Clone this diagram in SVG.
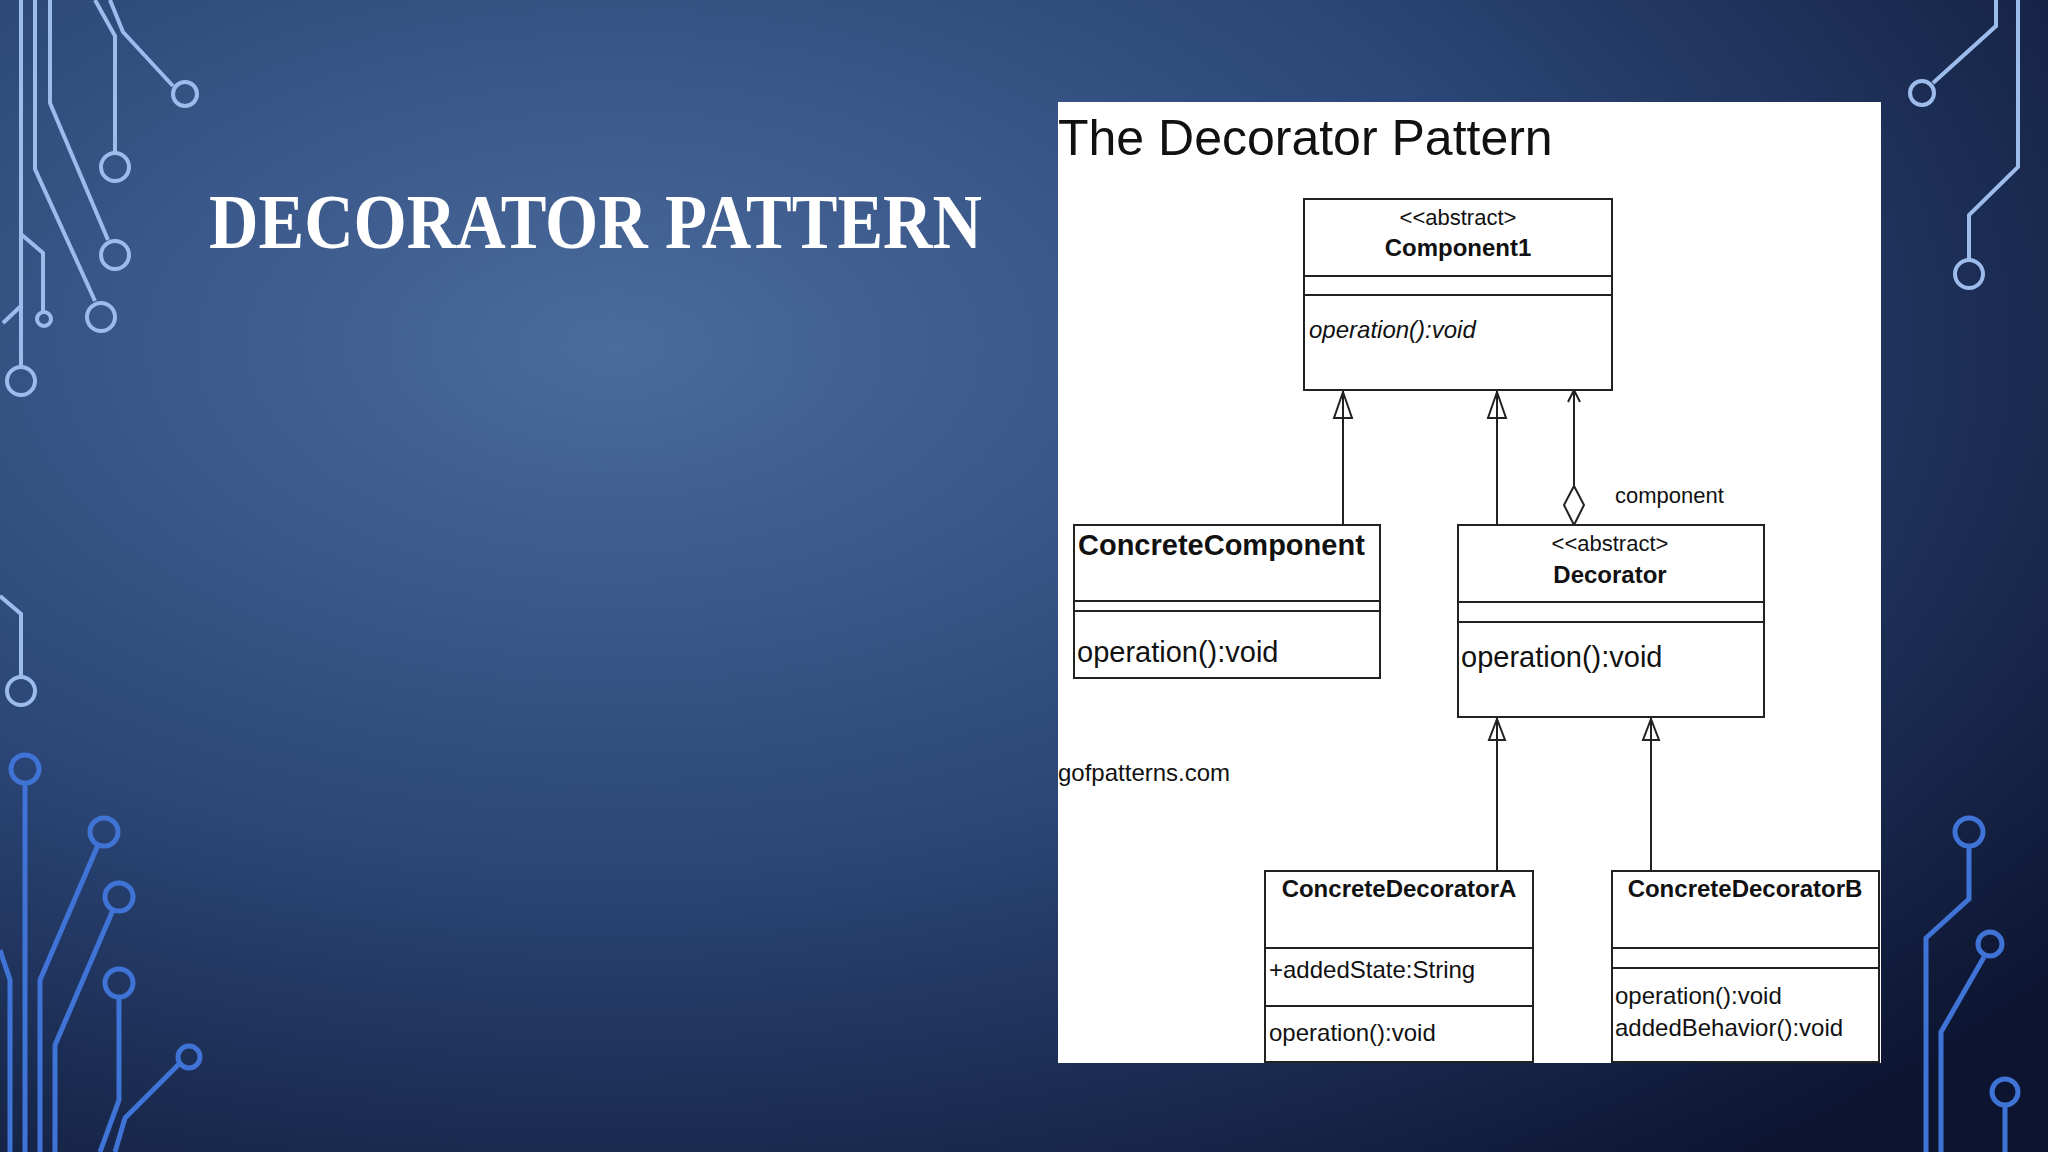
<svg xmlns="http://www.w3.org/2000/svg" width="2048" height="1152" viewBox="0 0 2048 1152">
<defs>
<radialGradient id="bg" cx="0.3" cy="0.3" r="0.9">
<stop offset="0" stop-color="#4a6b9c"/>
<stop offset="0.5" stop-color="#2b4677"/>
<stop offset="1" stop-color="#0c1430"/>
</radialGradient>
<style>
.ct{fill:none;stroke:#9dbcec;stroke-width:4}
.cb{fill:none;stroke:#3f74d6;stroke-width:5}
.bx{fill:#fff;stroke:#222;stroke-width:2}
.ln{stroke:#222;stroke-width:2;fill:none}
.t{font-family:"Liberation Sans",Arial,sans-serif;fill:#111}
.b{font-weight:bold}
</style>
</defs>
<rect width="2048" height="1152" fill="url(#bg)"/>
<g id="circuits">
<path class="ct" d="M21 0V366M35 0V169L95 301M50 0V103L108 240M95 0L115 36V153M110 0L123 32L173 86M22 235L43 253V311M3 323L22 305M0 596L21 614V676"/>
<circle class="ct" cx="21" cy="381" r="14"/><circle class="ct" cx="101" cy="317" r="14"/><circle class="ct" cx="115" cy="255" r="14"/><circle class="ct" cx="115" cy="167" r="14"/><circle class="ct" cx="185" cy="94" r="12"/><circle class="ct" cx="44" cy="319" r="7"/><circle class="ct" cx="21" cy="691" r="14"/>
<path class="ct" d="M1933 83L1996 26V0M1969 260V215L2018 167V0"/>
<circle class="ct" cx="1922" cy="93" r="12"/><circle class="ct" cx="1969" cy="274" r="14"/>
<path class="cb" d="M25 784V1152M98 845L40 980V1152M113 910L55 1045V1152M119 996V1100L100 1152M179 1064L125 1118L115 1152M0 950L10 980V1152"/>
<circle class="cb" cx="25" cy="769" r="14"/><circle class="cb" cx="104" cy="832" r="14"/><circle class="cb" cx="119" cy="897" r="14"/><circle class="cb" cx="119" cy="983" r="14"/><circle class="cb" cx="189" cy="1057" r="11"/>
<path class="cb" d="M1969 846V899L1926 938V1152M1984 957L1941 1032V1152M2005 1107V1152"/>
<circle class="cb" cx="1969" cy="832" r="14"/><circle class="cb" cx="1990" cy="944" r="12"/><circle class="cb" cx="2005" cy="1092" r="13"/>
</g>
<text x="209" y="248" font-family="Liberation Serif,serif" font-size="78" font-weight="bold" fill="#fff" textLength="773" lengthAdjust="spacingAndGlyphs">DECORATOR PATTERN</text>
<rect x="1058" y="102" width="823" height="961" fill="#fff"/>
<text class="t" x="1058" y="155" font-size="50">The Decorator Pattern</text>
<text class="t" x="1058" y="781" font-size="24">gofpatterns.com</text>
<text class="t" x="1615" y="503" font-size="22">component</text>
<g id="connectors">
<path class="ln" d="M1343 525V390M1497 525V390M1574 486V390M1497 871V717M1651 871V717"/>
<path class="ln" d="M1343 392L1334 418H1352Z M1497 392L1488 418H1506Z M1497 719L1489 740H1505Z M1651 719L1643 740H1659Z"/>
<path class="ln" d="M1568 402L1574 390L1580 402"/>
<path class="ln" d="M1574 486L1584 505L1574 525L1564 505Z"/>
</g>
<g id="component1">
<rect class="bx" x="1304" y="199" width="308" height="191"/>
<path class="ln" d="M1304 276H1612M1304 295H1612"/>
<text class="t" x="1458" y="225" font-size="22" text-anchor="middle">&lt;&lt;abstract&gt;</text>
<text class="t b" x="1458" y="256" font-size="24" text-anchor="middle">Component1</text>
<text class="t" x="1309" y="338" font-size="24" font-style="italic">operation():void</text>
</g>
<g id="concreteComponent">
<rect class="bx" x="1074" y="525" width="306" height="153"/>
<path class="ln" d="M1074 601H1380M1074 611H1380"/>
<text class="t b" x="1078" y="555" font-size="29">ConcreteComponent</text>
<text class="t" x="1077" y="662" font-size="29">operation():void</text>
</g>
<g id="decorator">
<rect class="bx" x="1458" y="525" width="306" height="192"/>
<path class="ln" d="M1458 602H1764M1458 622H1764"/>
<text class="t" x="1610" y="551" font-size="22" text-anchor="middle">&lt;&lt;abstract&gt;</text>
<text class="t b" x="1610" y="583" font-size="24" text-anchor="middle">Decorator</text>
<text class="t" x="1461" y="667" font-size="29">operation():void</text>
</g>
<g id="concreteDecoratorA">
<rect class="bx" x="1265" y="871" width="268" height="191"/>
<path class="ln" d="M1265 948H1533M1265 1006H1533"/>
<text class="t b" x="1399" y="897" font-size="24" text-anchor="middle">ConcreteDecoratorA</text>
<text class="t" x="1269" y="978" font-size="24">+addedState:String</text>
<text class="t" x="1269" y="1041" font-size="24">operation():void</text>
</g>
<g id="concreteDecoratorB">
<rect class="bx" x="1612" y="871" width="267" height="191"/>
<path class="ln" d="M1612 948H1879M1612 968H1879"/>
<text class="t b" x="1745" y="897" font-size="24" text-anchor="middle">ConcreteDecoratorB</text>
<text class="t" x="1615" y="1004" font-size="24">operation():void</text>
<text class="t" x="1615" y="1036" font-size="24">addedBehavior():void</text>
</g>
</svg>
